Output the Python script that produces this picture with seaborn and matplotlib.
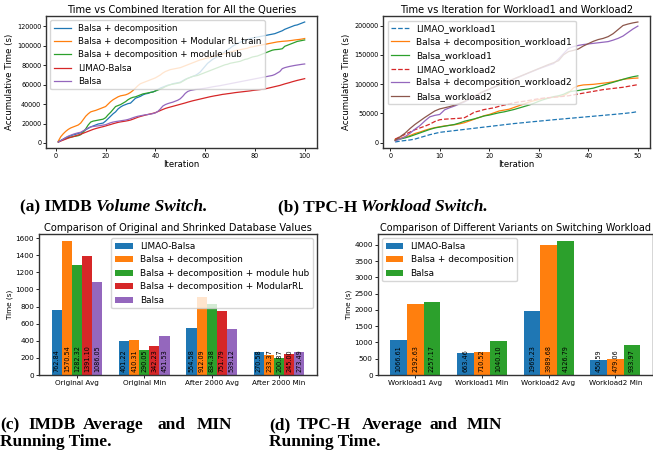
import matplotlib
matplotlib.use("Agg")
import matplotlib.pyplot as plt
import pandas as pd
import seaborn as sns

W, H = 653, 461
TAB = ["#1f77b4", "#ff7f0e", "#2ca02c", "#d62728", "#9467bd", "#8c564b"]

# ---- (a) IMDB volume switch: accumulative time per iteration
iters_a = list(range(1, 101))
a_decomp = [
    1000, 2500, 4000, 5500, 6500, 7500, 8300, 9000, 9800, 10500,
    12000, 13500, 15000, 16500, 17500, 18500, 19500, 20000, 20500, 22500,
    25000, 27500, 30000, 32000, 35000, 37000, 38500, 39500, 40500, 41000,
    43500, 46000, 47000, 48000, 49500, 50500, 51000, 52000, 52500, 53500,
    55000, 56500, 57500, 58500, 59500, 60000, 61000, 61500, 62000, 62500,
    64000, 65500, 66500, 67500, 68500, 69500, 71000, 73000, 76000, 79000,
    82000, 84000, 86000, 87500, 89000, 90500, 92000, 94000, 96000, 97500,
    99500, 101000, 102500, 103500, 104500, 105500, 106500, 107500, 108000, 108500,
    109000, 109500, 110000, 110500, 111000, 111500, 112000, 112500, 113500, 114500,
    115500, 117000, 118000, 119000, 120000, 121000, 121500, 122500, 123500, 124500,
]
a_modrl = [
    2000, 6500, 9500, 12000, 14000, 15500, 16500, 17500, 18500, 20500,
    24000, 27500, 30000, 32000, 32800, 33500, 34500, 35500, 36500, 37500,
    40000, 42500, 44500, 46000, 47500, 48500, 49000, 49500, 50500, 52000,
    54000, 56500, 59000, 61000, 62000, 63000, 64000, 65000, 66000, 67000,
    68500, 70000, 72000, 73500, 74500, 75500, 76000, 76500, 77000, 77500,
    78500, 79500, 80500, 81500, 82500, 83500, 84500, 85500, 86000, 87000,
    87500, 88000, 89000, 89500, 90000, 91000, 91500, 92000, 93000, 93500,
    94000, 95000, 95500, 96000, 96500, 97000, 97500, 98500, 99000, 99500,
    100000, 100500, 101000, 101500, 102000, 102500, 103000, 103500, 104000, 104300,
    104600, 104800, 105000, 105300, 105600, 106000, 106300, 106600, 107000, 107500,
]
a_hub = [
    1000, 2500, 3500, 4500, 5500, 6000, 6500, 7000, 7500, 8500,
    11000, 14500, 18500, 21500, 22500, 23000, 23500, 24000, 24500, 26000,
    29000, 31500, 34500, 37500, 38500, 39500, 41000, 42500, 44500, 46000,
    47000, 47500, 48500, 49500, 50500, 51000, 51500, 52000, 52500, 53500,
    54500, 55500, 56500, 58000, 59000, 60000, 60500, 61000, 61500, 62000,
    63500, 65000, 66500, 67500, 68500, 69000, 69500, 70500, 71500, 72500,
    73500, 74500, 75500, 76500, 77500, 78500, 79500, 80500, 81000, 82000,
    82500, 83000, 83500, 84000, 85000, 86000, 86500, 87500, 88500, 89000,
    89500, 90500, 91500, 92500, 93500, 94500, 95500, 96000, 96200, 96500,
    97000, 99500, 100500, 101500, 102500, 103500, 104500, 105000, 105500, 106000,
]
a_limao = [
    1000, 2000, 3000, 4000, 5000, 5800, 6600, 7400, 8200, 9000,
    10000, 11000, 12000, 13000, 14000, 14800, 15500, 16200, 16800, 17500,
    18300, 19000, 19800, 20500, 21200, 21700, 22100, 22500, 23000, 23600,
    24500, 25500, 26500, 27300, 28000, 28700, 29300, 29900, 30500, 31200,
    32300, 33400, 34500, 35500, 36300, 37000, 37700, 38400, 39100, 39800,
    40500, 41200, 42000, 42700, 43400, 44000, 44600, 45200, 45800, 46400,
    47000, 47600, 48100, 48600, 49000, 49500, 50000, 50300, 50700, 51000,
    51400, 51800, 52100, 52400, 52700, 53000, 53300, 53600, 54000, 54300,
    54600, 54900, 55300, 55700, 56200, 56800, 57400, 58000, 58600, 59200,
    60000, 60800, 61500, 62200, 63000, 63700, 64400, 65000, 65600, 66200,
]
a_balsa = [
    1000, 2500, 4000, 5500, 7000, 8000, 9000, 9800, 10500, 11000,
    12500, 14000, 15500, 16500, 17000, 17300, 17600, 18000, 18400, 18800,
    19800, 20800, 21500, 22000, 22400, 22800, 23200, 23600, 24200, 25000,
    26000, 26800, 27500, 28000, 28500, 29000, 29300, 29700, 30200, 31000,
    32500, 35000, 38000, 39500, 40500, 41300, 42000, 43000, 44000, 45500,
    48000, 51000, 53000, 54000, 54500, 55000, 55300, 55600, 56000, 56300,
    56800, 57300, 57800, 58200, 58600, 59000, 59500, 60000, 60500, 61000,
    61500, 62000, 62500, 63000, 63500, 64000, 64500, 65000, 65500, 66000,
    66500, 67000, 67500, 68000, 68500, 69000, 69500, 70500, 72000, 73500,
    76500, 77500, 78200, 78800, 79300, 79800, 80200, 80600, 81000, 81300,
]

# ---- (b) TPC-H workload switch
iters_b = list(range(1, 51))
b_limao_w1 = [
    1000, 2500, 3500, 4500, 6000, 8500, 11000, 13500, 15500, 17500,
    18500, 19500, 20500, 21500, 22500, 23500, 24500, 25500, 26500, 27500,
    28500, 29500, 30500, 31500, 32500, 33300, 34100, 35000, 35800, 36600,
    37400, 38200, 39000, 39800, 40500, 41300, 42000, 42800, 43500, 44300,
    45000, 45800, 46500, 47300, 48000, 48800, 49600, 50500, 51500, 53000,
]
b_decomp_w1 = [
    5500, 7500, 9500, 12000, 15500, 18000, 21000, 23500, 25500, 27000,
    28500, 29500, 30500, 32000, 34000, 37000, 40000, 43000, 46000, 48000,
    51000, 54000, 55500, 57000, 60000, 63000, 66000, 69000, 71500, 73500,
    75000, 76500, 77500, 78500, 80000, 85000, 93500, 97000, 98500, 99000,
    99500, 100500, 101500, 102500, 104000, 106000, 108000, 109000, 109800, 110300,
]
b_balsa_w1 = [
    4000, 6000, 8000, 10500, 13500, 16500, 19500, 22500, 25000, 26500,
    28000, 29500, 31000, 33500, 36500, 38500, 40500, 43000, 45500, 47000,
    49000, 51000, 52500, 54500, 56500, 59000, 61500, 64000, 67000, 70500,
    73500, 76000, 78500, 80000, 82500, 86500, 88000, 89000, 90500, 91500,
    93000, 95500, 98000, 100500, 103000, 105500, 108000, 110500, 112500, 114000,
]
b_limao_w2 = [
    6000, 10000, 14000, 18000, 22000, 25000, 28000, 31500, 36000, 39000,
    40000, 40500, 41000, 41500, 42500, 47000, 52000, 54000, 56500, 58000,
    59500, 62000, 64000, 66000, 68000, 69500, 70500, 72000, 73500, 75000,
    76000, 76800, 77500, 78200, 79000, 80000, 81500, 83000, 84500, 86000,
    87500, 89000, 90500, 91500, 92500, 93500, 94500, 96000, 97500, 99000,
]
b_decomp_w2 = [
    3000, 6000, 10000, 16000, 23000, 29000, 37000, 44000, 46500, 48000,
    56000, 59500, 62500, 66000, 69500, 74000, 78500, 83000, 87500, 91000,
    94500, 98000, 101500, 105000, 108500, 112000, 115500, 119000, 122500, 126000,
    129000, 132000, 135000, 143000, 152000, 161000, 164000, 166000, 167500, 168500,
    169500, 170500, 171500, 172500, 175000, 178000, 182000, 188000, 194000, 199000,
]
b_balsa_w2 = [
    4000, 10000, 16000, 24000, 31000, 37000, 43000, 48500, 54000, 57500,
    59500, 61500, 64000, 67000, 70500, 75000, 79500, 84000, 88000, 91500,
    95000, 98500, 102000, 105500, 109000, 112500, 116000, 119500, 123000, 126500,
    130000, 133500, 136500, 140000, 150000, 155500, 157500, 160000, 165000, 169000,
    173000, 176000, 178000, 181000, 186000, 193000, 200000, 202500, 204500, 206000,
]

# ---- (c) IMDB average / min running time
imdb_groups = ["Original Avg", "Original Min", "After 2000 Avg", "After 2000 Min"]
imdb_methods = [
    "LIMAO-Balsa",
    "Balsa + decomposition",
    "Balsa + decomposition + module hub",
    "Balsa + decomposition + ModularRL",
    "Balsa",
]
imdb_limao = [762.84, 401.22, 554.58, 270.58]
imdb_decomp = [1570.54, 410.31, 912.09, 233.37]
imdb_hub = [1282.32, 290.05, 834.38, 200.87]
imdb_modrl = [1391.10, 342.23, 751.79, 245.00]
imdb_balsa = [1086.05, 451.53, 539.12, 273.49]

# ---- (d) TPC-H average / min running time
tpch_groups = ["Workload1 Avg", "Workload1 Min", "Workload2 Avg", "Workload2 Min"]
tpch_methods = ["LIMAO-Balsa", "Balsa + decomposition", "Balsa"]
tpch_limao = [1066.61, 663.46, 1969.23, 450.59]
tpch_decomp = [2192.63, 710.52, 3989.68, 479.06]
tpch_balsa = [2257.17, 1040.10, 4126.79, 933.97]


def style_axes(ax, tick_size):
    ax.tick_params(labelsize=tick_size, length=2, width=0.6, pad=1.5)
    for s in ax.spines.values():
        s.set_linewidth(1.0)
        s.set_color("#333333")


def plot_lines(ax, x, series, labels, styles, title):
    for i, (y, lab, ls) in enumerate(zip(series, labels, styles)):
        sns.lineplot(x=x, y=y, ax=ax, color=TAB[i], label=lab, linestyle=ls, linewidth=0.9)
    ax.set_title(title, fontsize=7.1, pad=2)
    ax.set_xlabel("Iteration", fontsize=6.1, labelpad=1)
    ax.set_ylabel("Accumulative Time (s)", fontsize=6.2, labelpad=2)
    style_axes(ax, 4.7)


def plot_bars(ax, groups, methods, values, title, legend_loc, title_size=7.1):
    df = pd.DataFrame(
        [(g, m, v) for m, vals in zip(methods, values) for g, v in zip(groups, vals)],
        columns=["group", "method", "time"],
    )
    sns.barplot(
        data=df, x="group", y="time", hue="method", order=groups, hue_order=methods,
        palette=TAB[: len(methods)], saturation=1, width=0.75, linewidth=0, ax=ax,
    )
    for cont in ax.containers:
        for bar, v in zip(cont, cont.datavalues):
            ax.annotate(
                f"{v:.2f}", xy=(bar.get_x() + bar.get_width() / 2, 0),
                xytext=(0, 2), textcoords="offset points", rotation=90,
                ha="center", va="bottom", fontsize=4.7,
            )
    ax.set_xlim(-0.5625, len(groups) - 0.4375)
    ax.set_xlabel("")
    ax.set_ylabel("Time (s)", fontsize=5.2, labelpad=2)
    ax.set_title(title, fontsize=title_size, pad=2)
    sns.move_legend(ax, legend_loc, title=None, fontsize=6.4)
    style_axes(ax, 5.2)


fig = plt.figure(figsize=(W / 100, H / 100), dpi=100)

ax_a = fig.add_axes([46 / W, 1 - 148 / H, 271 / W, 132 / H])
plot_lines(
    ax_a, iters_a, [a_decomp, a_modrl, a_hub, a_limao, a_balsa],
    ["Balsa + decomposition", "Balsa + decomposition + Modular RL train",
     "Balsa + decomposition + module hub", "LIMAO-Balsa", "Balsa"],
    ["-"] * 5, "Time vs Combined Iteration for All the Queries",
)
ax_a.legend(loc="upper left", fontsize=6.2)

ax_b = fig.add_axes([383 / W, 1 - 148 / H, 267 / W, 132 / H])
plot_lines(
    ax_b, iters_b,
    [b_limao_w1, b_decomp_w1, b_balsa_w1, b_limao_w2, b_decomp_w2, b_balsa_w2],
    ["LIMAO_workload1", "Balsa + decomposition_workload1", "Balsa_workload1",
     "LIMAO_workload2", "Balsa + decomposition_workload2", "Balsa_workload2"],
    ["--", "-", "-", "--", "-", "-"], "Time vs Iteration for Workload1 and Workload2",
)
ax_b.legend(loc="upper left", fontsize=6.5)

ax_c = fig.add_axes([39 / W, 1 - 375 / H, 278 / W, 141 / H])
plot_bars(
    ax_c, imdb_groups, imdb_methods,
    [imdb_limao, imdb_decomp, imdb_hub, imdb_modrl, imdb_balsa],
    "Comparison of Original and Shrinked Database Values", "upper right",
)

ax_d = fig.add_axes([377.7 / W, 1 - 375 / H, 275 / W, 141 / H])
plot_bars(
    ax_d, tpch_groups, tpch_methods, [tpch_limao, tpch_decomp, tpch_balsa],
    "Comparison of Different Variants on Switching Workload", "upper left",
    title_size=6.9,
)

# ---- captions
cap = dict(family="Liberation Serif", fontweight="bold", fontsize=12.5, va="baseline")
renderer = fig.canvas.get_renderer()
for x0, head, tail in [(20, "(a) IMDB", "Volume Switch."), (278, "(b) TPC-H", "Workload Switch.")]:
    t = fig.text(x0 / W, 1 - 211 / H, head, **cap)
    bb = t.get_window_extent(renderer)
    fig.text((bb.x1 + 4) / W, 1 - 211 / H, tail, style="italic", **cap)

for words in [
    [(0.5, "(c)"), (28, "IMDB"), (83, "Average"), (157, "and"), (197, "MIN")],
    [(269, "(d)"), (297, "TPC-H"), (362, "Average"), (430, "and"), (467, "MIN")],
]:
    for x0, w in words:
        fig.text(x0 / W, 1 - 429.3 / H, w, **cap)
fig.text(0.5 / W, 1 - 446 / H, "Running Time.", **cap)
fig.text(269 / W, 1 - 446 / H, "Running Time.", **cap)

fig.savefig("out.png", dpi=100)
